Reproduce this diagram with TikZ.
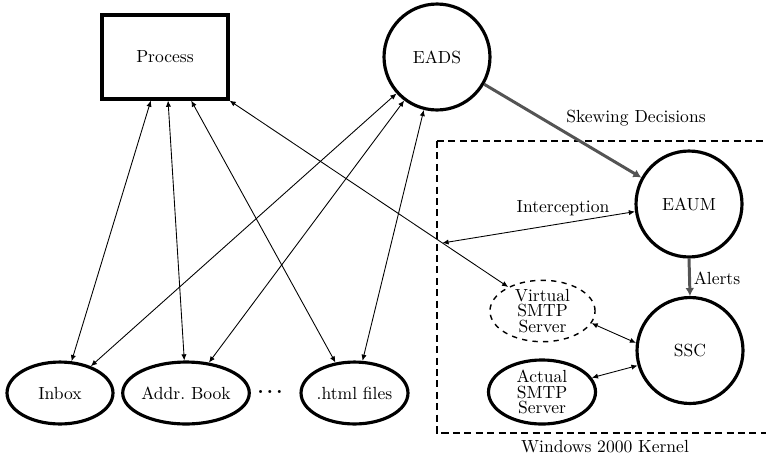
\documentclass[tikz,border=0pt]{standalone}
\usetikzlibrary{shapes.geometric,arrows.meta,calc}
\begin{document}
\begin{tikzpicture}[x=0.57pt,y=-0.57pt,
  bigc/.style={circle,draw,line width=1.8pt,minimum size=60.4pt,inner sep=0pt},
  ell/.style={ellipse,draw,line width=1.8pt,minimum width=60.4pt,minimum height=35.3pt,inner sep=0pt},
  srv/.style={ellipse,draw,align=center,inner sep=0pt,font=\fontsize{10}{8.8}\selectfont},
  thin/.style={line width=0.5pt,{Latex[length=3.5pt,width=3pt]}-{Latex[length=3.5pt,width=3pt]}},
  grayarr/.style={line width=1.7pt,draw=black!67,-{Latex[length=4.5pt,width=5pt]}},
  lbl/.style={inner sep=0pt}]
\useasboundingbox (0,0) rectangle (766,457);
% kernel box
\draw[dashed,line width=0.8pt,dash pattern=on 4pt off 2.5pt] (437,141) -- (775,141) (437,141) -- (437,433) -- (775,433);
\node[lbl] (kernel) at (605,447) {Windows 2000 Kernel};
% nodes
\node[draw,line width=1.8pt,minimum width=71.8pt,minimum height=47.9pt] (proc) at (165,57) {Process};
\node[bigc] (eads) at (437,57) {EADS};
\node[bigc] (eaum) at (689,204) {EAUM};
\node[bigc] (ssc) at (690,350.5) {SSC};
\node[srv,dashed,line width=0.8pt,minimum width=59.9pt,minimum height=33pt] (virt) at (542.5,311) {Virtual\\SMTP\\Server};
\node[srv,line width=1.8pt,minimum width=61pt,minimum height=36.5pt] (act) at (542,392) {Actual\\SMTP\\Server};
\node[ell] (inbox) at (60,393) {Inbox};
\node[ell] (addr) at (186,393) {Addr.\ Book};
\node[ell] (html) at (354.5,393) {.html files};
\node[lbl,font=\large\bfseries] (dots) at (270,392) {.\kern1.6pt.\kern1.6pt.};
% thin arrows
\draw[thin] (proc.252.4) -- (inbox.70.5);
\draw[thin] (proc.274) -- (addr.93.6);
\draw[thin] (proc.301.8) -- (html.122);
\draw[thin] (eads.222) -- (inbox.41);
\draw[thin] (eads.233.7) -- (addr.53.7);
\draw[thin] (eads.256.7) -- (html.76.8);
\draw[thin] (proc.south east) -- (virt.145.6);
\coordinate (icpt) at ($(proc.south east)!0.764!(virt.145.6)$);
\draw[thin] (icpt) -- (eaum.188);
\node[lbl] (ilbl) at (563,208) {Interception};
\draw[thin] (virt.-14) -- (ssc.172);
\draw[thin] (act.16.7) -- (ssc.196);
% gray arrows
\draw[grayarr] (eads.-30.4) -- (eaum.151);
\node[lbl] (skew) at (636,118) {Skewing Decisions};
\draw[grayarr] (eaum.south) -- (ssc.north);
\node[lbl] (alerts) at (717,278) {Alerts};
\end{tikzpicture}
\end{document}
